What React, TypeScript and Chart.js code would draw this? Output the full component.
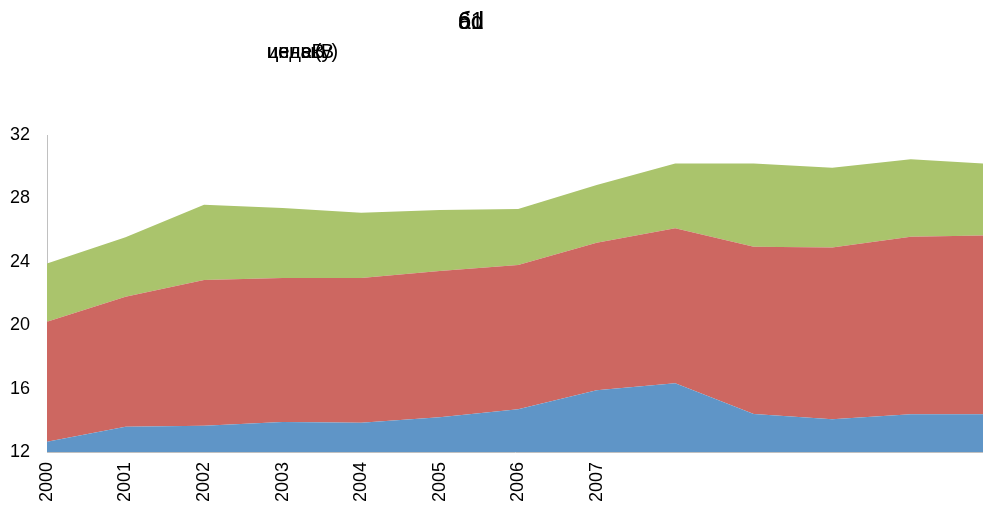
import React, { useEffect, useRef } from "react";
import { Chart, registerables } from "chart.js";

Chart.register(...registerables);

// category labels shown on the x axis (only the first eight are labelled in the source)
const yearLabels = ["2000", "2001", "2002", "2003", "2004", "2005", "2006", "2007"];
// point positions (category index) – 13 points, the last one falls just past the right edge
const pointIndex = [0, 1, 2, 3, 4, 5, 6, 7, 8, 9, 10, 11, 12];
// stacked series values (increments)
const seriesBlue = [12.65, 13.6, 13.65, 13.9, 13.85, 14.2, 14.7, 15.9, 16.33, 14.4, 14.06, 14.38, 14.38];
const seriesRed = [7.57, 8.2, 9.2, 9.08, 9.13, 9.22, 9.1, 9.3, 9.78, 10.55, 10.84, 11.2, 11.28];
const seriesGreen = [3.68, 3.75, 4.75, 4.42, 4.12, 3.85, 3.53, 3.65, 4.09, 5.25, 5.04, 4.89, 4.52];
const yMin = 12;
const yMax = 32;
const yStep = 4;
const xVisibleMax = 11.92;

const titleTop = ["61", "ad", "бd"];
const titleSub = ["индекB", "цены(у)", "ценаB"];

export default function App() {
  const ref = useRef<HTMLCanvasElement | null>(null);

  useEffect(() => {
    if (!ref.current) return;
    const mk = (vals: number[]) => vals.map((v, i) => ({ x: pointIndex[i], y: v }));
    const chart = new Chart(ref.current, {
      type: "line",
      data: {
        datasets: [
          { label: "A", data: mk(seriesBlue), backgroundColor: "#5f95c7", borderWidth: 0, pointRadius: 0, fill: "start" },
          { label: "B", data: mk(seriesRed), backgroundColor: "#cd6761", borderWidth: 0, pointRadius: 0, fill: "-1" },
          { label: "C", data: mk(seriesGreen), backgroundColor: "#aac46c", borderWidth: 0, pointRadius: 0, fill: "-1" },
        ],
      },
      options: {
        animation: false,
        responsive: false,
        maintainAspectRatio: false,
        layout: { padding: { top: 135, left: 0, right: 0, bottom: 0 } },
        plugins: { legend: { display: false }, tooltip: { enabled: false }, title: { display: false } },
        elements: { line: { tension: 0 } },
        scales: {
          x: {
            type: "linear",
            min: 0,
            max: xVisibleMax,
            grid: { display: false, drawTicks: false },
            border: { display: true, color: "#c0c0c0", width: 1 },
            afterBuildTicks: (scale: any) => {
              scale.ticks = yearLabels.map((_, i) => ({ value: i }));
            },
            afterFit: (scale: any) => {
              scale.height = 54;
            },
            ticks: {
              autoSkip: false,
              minRotation: 90,
              maxRotation: 90,
              padding: 10,
              color: "#000",
              font: { family: "'Liberation Sans', Arial, sans-serif", size: 18 },
              callback: (v: any) => yearLabels[Number(v)] ?? "",
            },
          },
          y: {
            stacked: true,
            min: yMin,
            max: yMax,
            grid: { display: false, drawTicks: false },
            border: { display: true, color: "#c0c0c0", width: 1 },
            afterFit: (scale: any) => {
              scale.width = 47;
            },
            ticks: {
              stepSize: yStep,
              padding: 17,
              color: "#000",
              font: { family: "'Liberation Sans', Arial, sans-serif", size: 18 },
            },
          },
        },
      },
    });
    return () => chart.destroy();
  }, []);

  const textStyle: React.CSSProperties = {
    position: "absolute",
    fontFamily: "'Liberation Sans', Arial, sans-serif",
    color: "#000",
    whiteSpace: "nowrap",
    lineHeight: "22px",
  };

  return (
    <div style={{ position: "fixed", left: 0, top: 0, width: 983, height: 506, background: "#fff", overflow: "hidden" }}>
      <canvas ref={ref} width={983} height={506} style={{ position: "absolute", left: 0, top: 0, width: 983, height: 506 }} />
      {titleTop.map((t, i) => (
        <div key={"t" + i} style={{ ...textStyle, left: 458, top: 10, fontSize: 23 }}>{t}</div>
      ))}
      {titleSub.map((t, i) => (
        <div key={"s" + i} style={{ ...textStyle, left: 267, top: 40, fontSize: 20 }}>{t}</div>
      ))}
    </div>
  );
}
